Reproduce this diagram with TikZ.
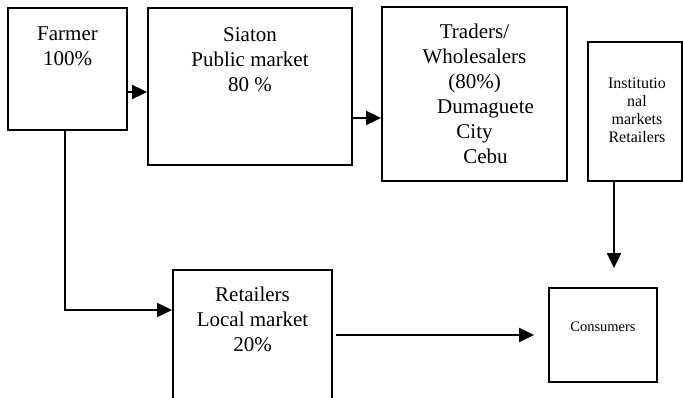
\documentclass[tikz,border=0pt]{standalone}
\usepackage{fontspec}
\setmainfont{Liberation Serif}
\usetikzlibrary{arrows.meta}
\begin{document}
\begin{tikzpicture}[x=1pt,y=-1pt,
  box/.style={draw, line width=1.8pt, rectangle, inner sep=0pt},
  txt/.style={inner sep=0pt, align=center, font=\fontsize{21}{25}\selectfont, anchor=north},
  arr/.style={line width=1.9pt, -{Triangle[length=15pt,width=14pt]}}]
\useasboundingbox (0,0) rectangle (683,398);
\clip (0,0) rectangle (683,398);
% boxes
\node[box, minimum width=119pt, minimum height=122pt] (farmer) at (67.5,69) {};
\node[box, minimum width=204pt, minimum height=157pt] (siaton) at (250,86.5) {};
\node[box, minimum width=185pt, minimum height=174pt] (traders) at (474.5,94) {};
\node[box, minimum width=94pt, minimum height=139pt] (inst) at (635,111.5) {};
\node[box, minimum width=159pt, minimum height=150pt] (retail) at (252.5,345) {};
\node[box, minimum width=108pt, minimum height=94pt] (cons) at (603,335) {};
% texts
\node[txt] (tfarmer) at (67.5,27) {Farmer\\100\%};
\node[txt] (tsiaton) at (250,27) {Siaton\\Public market\\80 \%};
\node[txt] (ttraders) at (474.5,24) {Traders/\\Wholesalers\\(80\%)\\\hspace*{22pt}Dumaguete\\City\\\hspace*{22pt}Cebu};
\node[txt, font=\fontsize{16}{18}\selectfont] (tinst) at (637,78) {Institutio\\nal\\markets\\Retailers};
\node[txt] (tretail) at (252.5,287) {Retailers\\Local market\\20\%};
\node[inner sep=0pt, font=\fontsize{14.5}{17}\selectfont] (tcons) at (603,327) {Consumers};
% connectors
\coordinate (fl) at (65,0);
\coordinate (y1) at (0,92);
\coordinate (y2) at (0,118);
\coordinate (y3) at (0,310);
\coordinate (vx) at (614,0);
\draw[arr] (farmer.east |- y1) -- (siaton.west |- y1);
\draw[arr] (siaton.east |- y2) -- (traders.west |- y2);
\draw[arr] (farmer.south -| fl) |- (retail.west |- y3);
\draw[arr, shorten <=3pt, shorten >=14pt] (retail.east |- cons.west) -- (cons.west);
\draw[arr, shorten >=19pt] (inst.south -| vx) -- (cons.north -| vx);
\end{tikzpicture}
\end{document}
